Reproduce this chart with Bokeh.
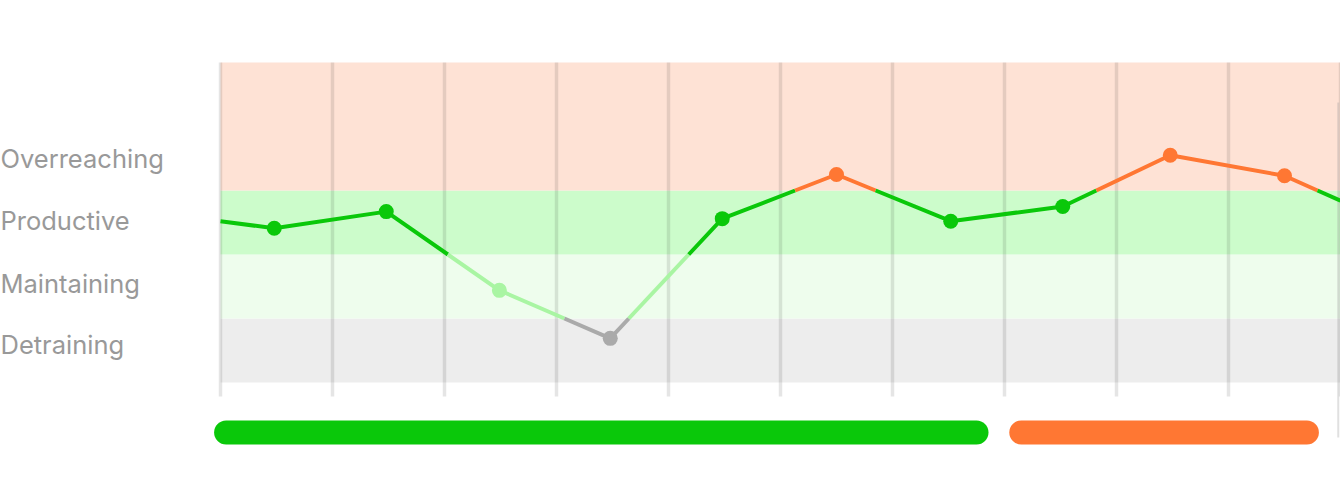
from bokeh.plotting import figure
from bokeh.models import Range1d, Label
from bokeh.embed import file_html
from bokeh.resources import INLINE

# ---- data ----
band_names = ["Detraining", "Maintaining", "Productive", "Overreaching"]
band_lower = [0, 1, 2, 3]
band_upper = [1, 2, 3, 5]
band_fill = ["#EDEDED", "#EEFDED", "#CCFCCB", "#FEE2D5"]
band_line = ["#AAAAAA", "#A9F5A3", "#0AC80A", "#FF7733"]

day_x = [0.48, 1.48, 2.49, 3.48, 4.48, 5.50, 6.52, 7.52, 8.48, 9.50]
day_y = [2.41, 2.67, 1.44, 0.69, 2.56, 3.25, 2.52, 2.75, 3.55, 3.23]
edge_x = [0, 10]
edge_y = [2.52, 2.84]

grid_x = list(range(0, 11))

phase_start = [0.05, 7.15]
phase_end = [6.75, 9.70]
phase_color = ["#0AC80A", "#FF7733"]

# ---- layout ----
W, H = 1340, 498
PX_X, PX_Y = 112.0, 64.0       # pixels per unit
ORIGIN_X, ORIGIN_Y = 220, 382  # page position of (0, 0)
X0, X1 = -ORIGIN_X / PX_X, (W - ORIGIN_X) / PX_X
Y0, Y1 = -(H - ORIGIN_Y) / PX_Y, ORIGIN_Y / PX_Y
BAND_TOP = 5
LABEL_BASELINE = [0.59, 1.54, 2.53, 3.50]

p = figure(width=W, height=H, output_backend="svg", toolbar_location=None,
           x_range=Range1d(X0, X1), y_range=Range1d(Y0, Y1),
           min_border_left=0, min_border_right=0,
           min_border_top=0, min_border_bottom=0)
p.axis.visible = False
p.grid.visible = False
p.outline_line_color = None
p.background_fill_color = "white"
p.border_fill_color = "white"

# bands
p.quad(left=0, right=10, bottom=band_lower, top=band_upper,
       fill_color=band_fill, line_color=None)

# vertical grid lines
p.segment(x0=grid_x, x1=grid_x, y0=[BAND_TOP] * len(grid_x), y1=[-0.22] * len(grid_x),
          line_color="#000000", line_alpha=0.1, line_width=3.5)

# right edge line
p.segment(x0=[9.98], x1=[9.98], y0=[4.375], y1=[-0.86],
          line_color="#999999", line_alpha=0.3, line_width=2)


def band_of(v):
    for i in range(len(band_lower)):
        if v < band_upper[i]:
            return i
    return len(band_lower) - 1


xs_all = [edge_x[0]] + day_x + [edge_x[1]]
ys_all = [edge_y[0]] + day_y + [edge_y[1]]

# split polyline into pieces by band
pieces = []  # (band, [xs], [ys])
bounds = band_upper[:-1]
for i in range(len(xs_all) - 1):
    xa, ya, xb, yb = xs_all[i], ys_all[i], xs_all[i + 1], ys_all[i + 1]
    ts = [0.0]
    for b in bounds:
        if (ya - b) * (yb - b) < 0:
            ts.append((b - ya) / (yb - ya))
    ts.append(1.0)
    ts.sort()
    for j in range(len(ts) - 1):
        t0, t1 = ts[j], ts[j + 1]
        px0, py0 = xa + (xb - xa) * t0, ya + (yb - ya) * t0
        px1, py1 = xa + (xb - xa) * t1, ya + (yb - ya) * t1
        bnd = band_of((py0 + py1) / 2)
        if pieces and pieces[-1][0] == bnd and pieces[-1][1][-1] == px0:
            pieces[-1][1].append(px1)
            pieces[-1][2].append(py1)
        else:
            pieces.append((bnd, [px0, px1], [py0, py1]))

p.multi_line(xs=[pc[1] for pc in pieces], ys=[pc[2] for pc in pieces],
             line_color=[band_line[pc[0]] for pc in pieces],
             line_width=4, line_join="round", line_cap="butt")

p.scatter(x=day_x, y=day_y, size=15, marker="circle",
          fill_color=[band_line[band_of(v)] for v in day_y], line_color=None)

# phase bars
p.segment(x0=phase_start, x1=phase_end, y0=[-0.78] * 2, y1=[-0.78] * 2,
          line_color=phase_color, line_width=24, line_cap="round")

# labels
for name, yb in zip(band_names, LABEL_BASELINE):
    p.add_layout(Label(x=X0, y=yb, text=name,
                       text_font="Inter", text_font_size="25.5px",
                       text_color="#999999", text_baseline="alphabetic",
                       text_align="left"))

open("out.html", "w").write(file_html(p, INLINE))
